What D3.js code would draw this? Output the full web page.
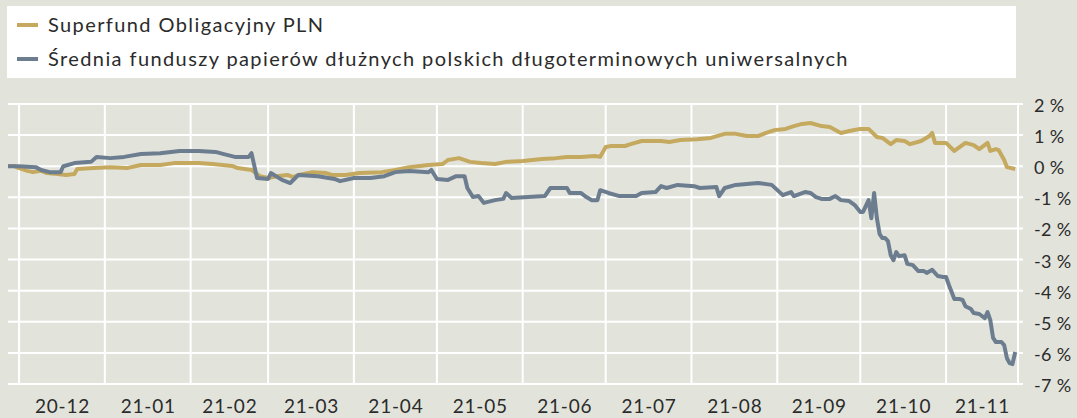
<!DOCTYPE html>
<html>
<head>
<meta charset="utf-8">
<script src="https://cdn.jsdelivr.net/npm/d3@7"></script>
<style>
    body { margin: 0; background: #e2e4dc; }
    svg { display: block; }
    text { font-family: Lato, "Open Sans", sans-serif; fill: #2b2b2b; }
</style>
</head>
<body>
<div id="chart"></div>
<script>

// series names
let seriesNames = ["Superfund Obligacyjny PLN",
    "Średnia funduszy papierów dłużnych polskich długoterminowych uniwersalnych"];

// Superfund Obligacyjny PLN (%)
let fundDates = ["2020-11-27","2020-11-29","2020-12-01","2020-12-04","2020-12-06","2020-12-09","2020-12-11","2020-12-15","2020-12-18","2020-12-21",
    "2020-12-22","2020-12-28","2021-01-03","2021-01-09","2021-01-14","2021-01-21","2021-01-26","2021-02-04","2021-02-09","2021-02-16",
    "2021-02-18","2021-02-23","2021-02-26","2021-03-01","2021-03-04","2021-03-08","2021-03-10","2021-03-12","2021-03-17","2021-03-22",
    "2021-03-24","2021-03-29","2021-04-03","2021-04-11","2021-04-16","2021-04-21","2021-04-28","2021-05-03","2021-05-05","2021-05-09",
    "2021-05-13","2021-05-17","2021-05-22","2021-05-26","2021-06-01","2021-06-08","2021-06-13","2021-06-17","2021-06-22","2021-06-27",
    "2021-06-29","2021-07-01","2021-07-03","2021-07-08","2021-07-10","2021-07-14","2021-07-21","2021-07-24","2021-07-28","2021-08-03",
    "2021-08-08","2021-08-13","2021-08-17","2021-08-21","2021-08-25","2021-08-28","2021-08-31","2021-09-04","2021-09-07","2021-09-10",
    "2021-09-13","2021-09-17","2021-09-20","2021-09-24","2021-09-27","2021-10-01","2021-10-04","2021-10-07","2021-10-09","2021-10-12",
    "2021-10-14","2021-10-17","2021-10-19","2021-10-23","2021-10-26","2021-10-27","2021-10-28","2021-11-01","2021-11-04","2021-11-06",
    "2021-11-08","2021-11-11","2021-11-13","2021-11-16","2021-11-17","2021-11-19","2021-11-20","2021-11-22","2021-11-23","2021-11-26"];
let fundValues = [0.01,0.01,-0.06,-0.15,-0.19,-0.15,-0.22,-0.25,-0.28,-0.25,
    -0.09,-0.06,-0.03,-0.06,0.04,0.04,0.10,0.10,0.07,0.01,
    -0.06,-0.12,-0.32,-0.38,-0.32,-0.28,-0.35,-0.28,-0.19,-0.22,
    -0.28,-0.28,-0.22,-0.19,-0.12,-0.03,0.04,0.07,0.20,0.26,
    0.14,0.10,0.07,0.14,0.17,0.23,0.26,0.30,0.30,0.33,
    0.30,0.62,0.65,0.65,0.71,0.81,0.81,0.78,0.84,0.87,
    0.91,1.04,1.04,0.97,0.97,1.07,1.16,1.20,1.29,1.36,
    1.39,1.29,1.26,1.07,1.13,1.20,1.20,0.94,0.91,0.71,
    0.84,0.81,0.71,0.81,0.97,1.07,0.75,0.75,0.49,0.62,
    0.75,0.68,0.55,0.75,0.49,0.55,0.52,0.20,-0.03,-0.09];

// Średnia funduszy (%)
let avgDates = ["2020-11-27","2020-12-01","2020-12-07","2020-12-09","2020-12-12","2020-12-16","2020-12-17","2020-12-21","2020-12-27","2020-12-29",
    "2021-01-03","2021-01-08","2021-01-14","2021-01-21","2021-01-28","2021-02-04","2021-02-10","2021-02-13","2021-02-17","2021-02-22",
    "2021-02-23","2021-02-25","2021-03-01","2021-03-02","2021-03-06","2021-03-09","2021-03-12","2021-03-19","2021-03-25","2021-03-27",
    "2021-04-01","2021-04-07","2021-04-12","2021-04-16","2021-04-21","2021-04-28","2021-04-29","2021-05-01","2021-05-05","2021-05-08",
    "2021-05-11","2021-05-12","2021-05-14","2021-05-16","2021-05-18","2021-05-22","2021-05-25","2021-05-26","2021-05-28","2021-06-03",
    "2021-06-09","2021-06-11","2021-06-17","2021-06-18","2021-06-22","2021-06-24","2021-06-26","2021-06-28","2021-06-29","2021-07-02",
    "2021-07-06","2021-07-12","2021-07-14","2021-07-19","2021-07-21","2021-07-23","2021-07-27","2021-08-02","2021-08-04","2021-08-10",
    "2021-08-11","2021-08-13","2021-08-17","2021-08-25","2021-08-30","2021-09-03","2021-09-06","2021-09-07","2021-09-11","2021-09-13",
    "2021-09-15","2021-09-17","2021-09-20","2021-09-22","2021-09-24","2021-09-27","2021-09-29","2021-10-01","2021-10-02","2021-10-04",
    "2021-10-05","2021-10-06","2021-10-07","2021-10-08","2021-10-09","2021-10-10","2021-10-11","2021-10-12","2021-10-13","2021-10-14",
    "2021-10-15","2021-10-17","2021-10-18","2021-10-20","2021-10-22","2021-10-24","2021-10-25","2021-10-27","2021-10-29","2021-10-31",
    "2021-11-01","2021-11-02","2021-11-04","2021-11-06","2021-11-07","2021-11-08","2021-11-10","2021-11-11","2021-11-13","2021-11-15",
    "2021-11-16","2021-11-17","2021-11-18","2021-11-19","2021-11-21","2021-11-22","2021-11-23","2021-11-24","2021-11-25","2021-11-26"];
let avgValues = [0.00,0.00,-0.03,-0.12,-0.19,-0.19,0.00,0.10,0.14,0.30,
    0.26,0.30,0.39,0.42,0.49,0.49,0.46,0.39,0.30,0.30,
    0.42,-0.38,-0.41,-0.22,-0.44,-0.54,-0.28,-0.32,-0.41,-0.48,
    -0.38,-0.38,-0.32,-0.19,-0.15,-0.19,-0.12,-0.41,-0.44,-0.32,
    -0.32,-0.70,-0.99,-0.96,-1.18,-1.09,-1.05,-0.86,-1.02,-0.99,
    -0.96,-0.70,-0.70,-0.86,-0.86,-0.99,-1.09,-1.09,-0.77,-0.86,
    -0.96,-0.96,-0.86,-0.83,-0.64,-0.70,-0.60,-0.64,-0.70,-0.67,
    -0.96,-0.70,-0.60,-0.54,-0.60,-0.93,-0.83,-0.96,-0.83,-0.86,
    -0.99,-1.05,-1.05,-0.96,-1.09,-1.12,-1.25,-1.47,-1.47,-1.09,
    -1.67,-0.86,-1.67,-2.18,-2.31,-2.31,-2.41,-2.86,-3.02,-2.76,
    -2.89,-2.86,-3.14,-3.18,-3.37,-3.37,-3.43,-3.33,-3.53,-3.56,
    -3.56,-3.81,-4.27,-4.27,-4.30,-4.50,-4.59,-4.72,-4.75,-4.88,
    -4.69,-4.95,-5.52,-5.65,-5.65,-5.75,-6.17,-6.33,-6.36,-5.97];

// axis ticks
let yTicks = [2, 1, 0, -1, -2, -3, -4, -5, -6, -7];
let monthStarts = ["2020-12-01","2021-01-01","2021-02-01","2021-03-01","2021-04-01","2021-05-01",
    "2021-06-01","2021-07-01","2021-08-01","2021-09-01","2021-10-01","2021-11-01"];
let monthLabels = ["20-12","21-01","21-02","21-03","21-04","21-05","21-06","21-07","21-08","21-09","21-10","21-11"];
let xDomain = ["2020-11-27", "2021-11-27"];

let colors = ["#c4a95f", "#6d7d90"];

let parseDate = d3.timeParse("%Y-%m-%d");

let width = 1077, height = 418;

let svg = d3.select("#chart").append("svg")
    .attr("width", width)
    .attr("height", height);

// scales
let xScale = d3.scaleTime()
    .domain(xDomain.map(parseDate))
    .range([8, 1018]);

let yScale = d3.scaleLinear()
    .domain([-7, 2])
    .range([384, 104]);

// legend box
let legend = svg.append("g");
legend.append("rect")
    .attr("x", 7).attr("y", 6)
    .attr("width", 1009).attr("height", 72)
    .attr("fill", "#ffffff");

seriesNames.forEach((name, i) => {
    let cy = 25 + i * 34;
    legend.append("line")
        .attr("x1", 17).attr("x2", 38)
        .attr("y1", cy).attr("y2", cy)
        .attr("stroke", colors[i])
        .attr("stroke-width", 4);
    legend.append("text")
        .attr("x", 48).attr("y", cy + 7)
        .attr("font-size", 20)
        .attr("letter-spacing", 1.4)
        .text(name);
});

// grid
let grid = svg.append("g").attr("stroke", "#ffffff").attr("stroke-width", 2);

grid.selectAll(".hgrid")
    .data(yTicks)
    .join("line")
    .attr("class", "hgrid")
    .attr("x1", 8).attr("x2", 1023)
    .attr("y1", d => yScale(d)).attr("y2", d => yScale(d));

grid.selectAll(".vgrid")
    .data(monthStarts.map(parseDate).concat([parseDate(xDomain[1])]))
    .join("line")
    .attr("class", "vgrid")
    .attr("x1", d => xScale(d)).attr("x2", d => xScale(d))
    .attr("y1", yScale(2)).attr("y2", yScale(-7));

// y labels on the right
svg.append("g")
    .selectAll("text")
    .data(yTicks)
    .join("text")
    .attr("x", 1034)
    .attr("y", d => yScale(d) + 8)
    .attr("font-size", 18)
    .attr("letter-spacing", 0.3)
    .text(d => d + " %");

// x axis, labels at mid-month
let labelDates = monthStarts.map((m, i) => {
    let start = parseDate(m);
    let end = i < monthStarts.length - 1 ? parseDate(monthStarts[i + 1]) : parseDate(xDomain[1]);
    return new Date((start.getTime() + end.getTime()) / 2);
});

let xAxis = d3.axisBottom(xScale)
    .tickValues(labelDates)
    .tickSize(0)
    .tickPadding(0)
    .tickFormat((d, i) => monthLabels[i]);

let xAxisGroup = svg.append("g")
    .attr("transform", "translate(0,399)")
    .call(xAxis);
xAxisGroup.select(".domain").remove();
xAxisGroup.selectAll("text")
    .attr("font-size", 19)
    .attr("font-family", "Lato, sans-serif")
    .attr("letter-spacing", 0.8)
    .attr("fill", "#2b2b2b")
    .attr("dy", "0.71em");

// lines
let line = d3.line()
    .x(d => xScale(d.date))
    .y(d => yScale(d.value));

let fundData = fundDates.map((d, i) => ({date: parseDate(d), value: fundValues[i]}));
let avgData = avgDates.map((d, i) => ({date: parseDate(d), value: avgValues[i]}));

svg.append("path")
    .datum(fundData)
    .attr("fill", "none")
    .attr("stroke", colors[0])
    .attr("stroke-width", 4)
    .attr("stroke-linejoin", "round")
    .attr("d", line);

svg.append("path")
    .datum(avgData)
    .attr("fill", "none")
    .attr("stroke", colors[1])
    .attr("stroke-width", 4)
    .attr("stroke-linejoin", "round")
    .attr("d", line);

</script>
</body>
</html>
